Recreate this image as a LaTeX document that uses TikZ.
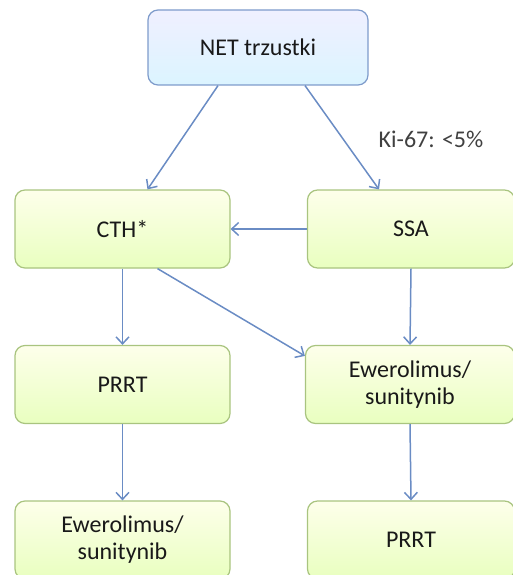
\documentclass[tikz,border=0pt]{standalone}
\usepackage{fontspec}
\setmainfont{Carlito}
\usetikzlibrary{arrows.meta}

\definecolor{lineblue}{HTML}{6A8CC4}
\definecolor{boxgreen}{HTML}{A9C47F}
\definecolor{boxblue}{HTML}{7E9BCB}

\tikzset{
  box/.style={draw=boxgreen, line width=1.2pt, rounded corners=10pt,
    top color=green!8!yellow!8!white, bottom color=green!35!yellow!25!white,
    minimum width=215pt, minimum height=78pt, align=center,
    font=\fontsize{24}{27}\selectfont, text=black!90},
  topbox/.style={box, draw=boxblue, top color=blue!6!white,
    bottom color=blue!30!cyan!14!white, minimum width=220pt, minimum height=75pt},
  link/.style={draw=lineblue, line width=1.5pt, -{Straight Barb[length=7pt,width=13pt]}}
}

\begin{document}
\begin{tikzpicture}[x=1pt,y=1pt]
  \useasboundingbox (0,0) rectangle (513,-575);
  \node[topbox] (net) at (258,-47.5) {NET trzustki};
  \node[box] (cth) at (122.5,-229) {CTH*};
  \node[box, minimum width=207pt] (ssa) at (411,-229) {SSA};
  \node[box] (prrtl) at (122.5,-384.5) {PRRT};
  \node[box, minimum width=209pt] (ewr) at (410,-384.5) {Ewerolimus/\\sunitynib};
  \node[box] (ewl) at (122.5,-540) {Ewerolimus/\\sunitynib};
  \node[box, minimum width=207pt] (prrtr) at (411,-540) {PRRT};
  \node[font=\fontsize{24}{27}\selectfont, text=black!75] (ki) at (431,-139) {Ki-67: <5\%};

  \draw[link] ([xshift=-40pt]net.south) -- ([xshift=25pt]cth.north);
  \draw[link] ([xshift=47pt]net.south) -- ([xshift=-32pt]ssa.north);
  \draw[link] (ssa.west) -- (cth.east);
  \draw[link] (cth.south) -- (prrtl.north);
  \draw[link] ([xshift=35pt]cth.south) -- ([yshift=-11pt]ewr.north west);
  \draw[link] (ssa.south) -- (ewr.north);
  \draw[link] (prrtl.south) -- (ewl.north);
  \draw[link] (ewr.south) -- (prrtr.north);
\end{tikzpicture}
\end{document}
